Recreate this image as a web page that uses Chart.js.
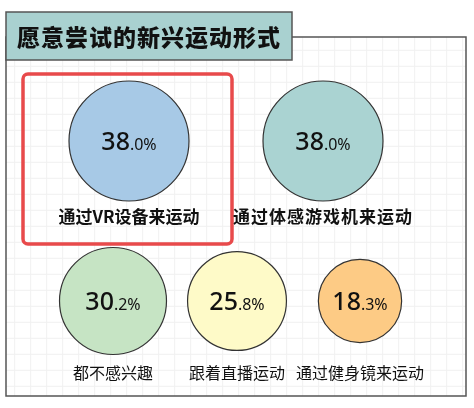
<!DOCTYPE html>
<html>
<head>
<meta charset="utf-8">
<title>愿意尝试的新兴运动形式</title>
<script src="https://cdn.jsdelivr.net/npm/chart.js"></script>
<style>
  html, body { margin: 0; padding: 0; background: #fff; }
  #wrap { width: 474px; height: 408px; }
</style>
</head>
<body>
<div id="wrap"><canvas id="myChart" width="474" height="408"></canvas></div>
<script>
// data
var title = "愿意尝试的新兴运动形式";
var categories = ["通过VR设备来运动", "通过体感游戏机来运动", "都不感兴趣", "跟着直播运动", "通过健身镜来运动"];
var values = [38.0, 38.0, 30.2, 25.8, 18.3];
var colors = ["#a7c9e6", "#aad3d2", "#c6e4c4", "#fefac8", "#fdcb85"];

// layout: slot centres and label line for each bubble (page pixels)
var slots = [
  {x: 129, y: 141, labelY: 217, bold: true, spacing: 0},
  {x: 323, y: 141, labelY: 217, bold: true, spacing: 1},
  {x: 113, y: 301, labelY: 373, bold: false, spacing: 0},
  {x: 237, y: 301, labelY: 373, bold: false, spacing: 0},
  {x: 360, y: 301, labelY: 373, bold: false, spacing: 0}
];
var maxR = 60;
var maxV = Math.max.apply(null, values);

var cjk = '"Noto Sans CJK SC", "Noto Sans", sans-serif';
var num = '"Noto Sans", "Open Sans", sans-serif';

var points = values.map(function(v, i){
  return {x: slots[i].x, y: slots[i].y, r: maxR * Math.sqrt(v / maxV)};
});

var frame = {
  id: 'frame',
  beforeDatasetsDraw: function(chart){
    var c = chart.ctx;
    c.save();
    c.fillStyle = '#fff';
    c.fillRect(0, 0, chart.width, chart.height);
    // faint grid inside frame
    c.strokeStyle = '#f1f1f1';
    c.lineWidth = 1;
    c.beginPath();
    for (var gx = 14.7; gx < 466; gx += 16) { c.moveTo(gx, 37); c.lineTo(gx, 396); }
    for (var gy = 50.3; gy < 396; gy += 16) { c.moveTo(6, gy); c.lineTo(466, gy); }
    c.stroke();
    // outer frame
    c.strokeStyle = '#555';
    c.lineWidth = 1.5;
    c.strokeRect(6, 37, 460, 359);
    // title box
    c.fillStyle = '#a9d1d0';
    c.fillRect(6, 12, 286, 48);
    c.strokeRect(6, 12, 286, 48);
    c.fillStyle = '#111';
    c.font = '900 23px ' + cjk;
    c.textBaseline = 'middle';
    c.textAlign = 'left';
    c.letterSpacing = '1px';
    c.fillText(title, 17, 37);
    c.letterSpacing = '0px';
    // highlight box
    c.strokeStyle = '#e84a4b';
    c.lineWidth = 3.5;
    c.beginPath();
    c.roundRect(23, 74, 209, 170, 5);
    c.stroke();
    c.restore();
  },
  afterDatasetsDraw: function(chart){
    var c = chart.ctx;
    var meta = chart.getDatasetMeta(0);
    c.save();
    c.fillStyle = '#111';
    c.textBaseline = 'alphabetic';
    meta.data.forEach(function(el, i){
      var parts = values[i].toFixed(1).split('.');
      var big = parts[0], small = '.' + parts[1] + '%';
      c.font = '500 25px ' + num;
      var w1 = c.measureText(big).width;
      c.font = '400 16px ' + num;
      var w2 = c.measureText(small).width;
      var x0 = el.x - (w1 + w2) / 2;
      c.textAlign = 'left';
      c.font = '500 25px ' + num;
      c.fillText(big, x0, el.y + 9);
      c.font = '400 16px ' + num;
      c.fillText(small, x0 + w1, el.y + 9);
      // category label
      var s = slots[i];
      c.font = (s.bold ? 'bold 17px ' : '16px ') + cjk;
      c.letterSpacing = s.spacing + 'px';
      c.textAlign = 'center';
      c.textBaseline = 'middle';
      c.fillText(categories[i], el.x, s.labelY);
      c.letterSpacing = '0px';
      c.textBaseline = 'alphabetic';
    });
    c.restore();
  }
};

new Chart(document.getElementById('myChart'), {
  type: 'bubble',
  data: {
    labels: categories,
    datasets: [{
      data: points,
      backgroundColor: colors,
      borderColor: '#333',
      borderWidth: 1.2,
      clip: false
    }]
  },
  options: {
    responsive: false,
    animation: false,
    events: [],
    layout: { padding: 0, autoPadding: false },
    plugins: { legend: { display: false }, tooltip: { enabled: false } },
    scales: {
      x: { type: 'linear', min: 0, max: 474, display: false },
      y: { type: 'linear', min: 0, max: 408, reverse: true, display: false }
    }
  },
  plugins: [frame]
});
</script>
</body>
</html>
